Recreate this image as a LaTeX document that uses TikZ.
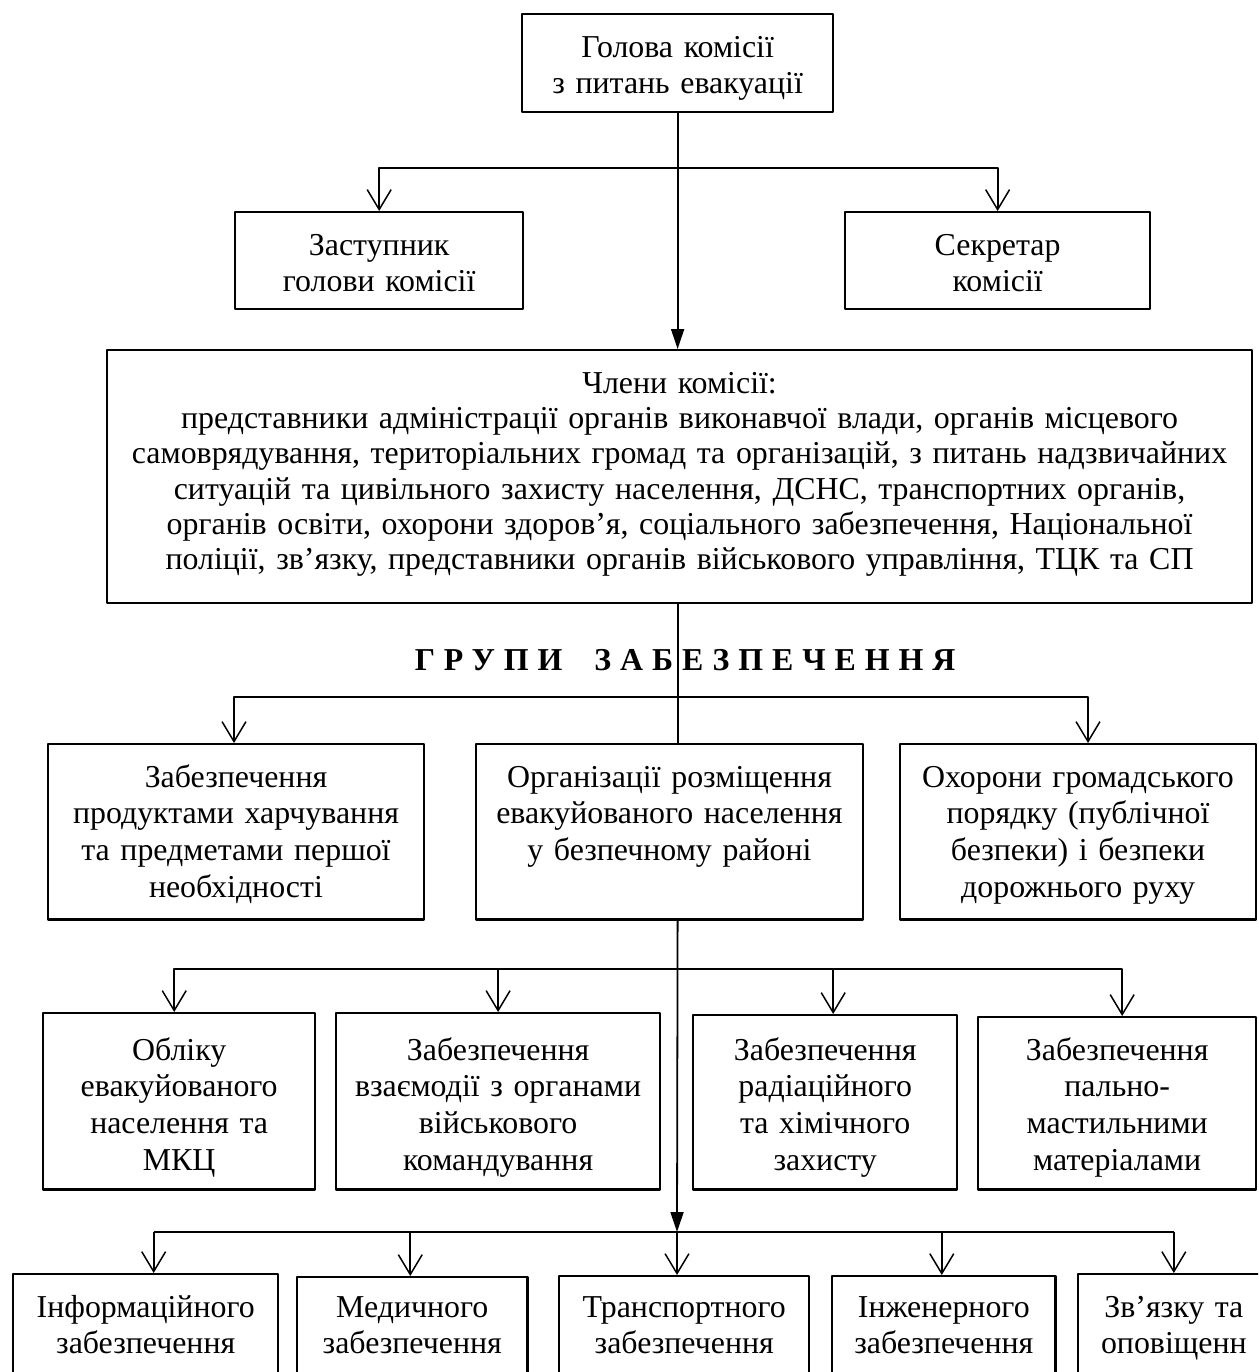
\documentclass[tikz,border=0pt]{standalone}
\usepackage{fontspec}
\setmainfont{Liberation Serif}
\usetikzlibrary{arrows.meta}

\begin{document}
\begin{tikzpicture}[x=1bp,y=-1bp,line join=bevel,
  orgbox/.style={draw,line width=2.4pt,anchor=north west,align=center,
    inner xsep=3pt,inner ysep=0pt,text height=43pt,
    font=\fontsize{32}{36.8}\selectfont},
  link/.style={line width=1.8pt},
  branch/.style={link,-{Straight Barb[length=20pt,width=24pt,line width=1.5pt]}},
  mainarrow/.style={link,-{Triangle[length=20pt,width=13pt]}}]
  \useasboundingbox (0,0) rectangle (1258,1372);
  \clip (0,0) rectangle (1258,1372);
%%
  % Node: Head
  \node[orgbox,text width=306pt,text depth=55pt] (head) at (521,13) {Голова комісії\\з питань евакуації};
  % Node: Deputy
  \node[orgbox,text width=283pt,text depth=54pt] (deputy) at (234,211) {Заступник\\голови комісії};
  % Node: Secretary
  \node[orgbox,text width=300pt,text depth=54pt] (secretary) at (844,211) {Секретар\\комісії};
  % Node: Members
  \node[orgbox,text width=1143pt,text depth=211pt,font=\fontsize{32}{35.5}\selectfont] (members) at (106,349)
    {Члени комісії:\\представники адміністрації органів виконавчої влади, органів місцевого\\самоврядування, територіальних громад та організацій, з питань надзвичайних\\ситуацій та цивільного захисту населення, ДСНС, транспортних органів,\\органів освіти, охорони здоров’я, соціального забезпечення, Національної\\поліції, зв’язку, представники органів військового управління, ТЦК та СП};
  % Node: Groups
  \node[font=\fontsize{32}{36}\selectfont\bfseries\addfontfeature{LetterSpace=28}] (groups) at (685,660) {ГРУПИ\quad ЗАБЕЗПЕЧЕННЯ};
  % Node: Food
  \node[orgbox,text width=371pt,text depth=133pt] (food) at (47,743) {Забезпечення\\продуктами харчування\\та предметами першої\\необхідності};
  % Node: Housing
  \node[orgbox,text width=382pt,text depth=133pt] (housing) at (475,743) {Організації розміщення\\евакуйованого населення\\у безпечному районі};
  % Node: Order
  \node[orgbox,text width=351pt,text depth=133pt] (order) at (899,743) {Охорони громадського\\порядку (публічної\\безпеки) і безпеки\\дорожнього руху};
  % Node: Record
  \node[orgbox,text width=267pt,text height=47pt,text depth=130pt] (record) at (42,1012) {Обліку\\евакуйованого\\населення та\\МКЦ};
  % Node: Liaison
  \node[orgbox,text width=319pt,text height=47pt,text depth=130pt] (liaison) at (335,1012) {Забезпечення\\взаємодії з органами\\військового\\командування};
  % Node: Chemical
  \node[orgbox,text width=259pt,text height=45pt,text depth=130pt] (chemical) at (692,1014) {Забезпечення\\радіаційного\\та хімічного\\захисту};
  % Node: Fuel
  \node[orgbox,text width=273pt,text height=43pt,text depth=130pt] (fuel) at (977,1016) {Забезпечення\\пально-\\мастильними\\матеріалами};
  % Node: Inform
  \node[orgbox,text width=260pt,text depth=110pt] (inform) at (12,1273) {Інформаційного\\забезпечення};
  % Node: Medical
  \node[orgbox,text width=225pt,text height=40pt,text depth=110pt] (medical) at (296,1276) {Медичного\\забезпечення};
  % Node: Transport
  \node[orgbox,text width=245pt,text height=41pt,text depth=110pt] (transport) at (558,1275) {Транспортного\\забезпечення};
  % Node: Engineer
  \node[orgbox,text width=218pt,text height=41pt,text depth=110pt] (engineer) at (831,1275) {Інженерного\\забезпечення};
  % Node: Signal
  \node[orgbox,text width=186pt,text depth=110pt] (signal) at (1077,1273) {Зв’язку та\\оповіщенн};
%%
  % Edge: Head -> Members
  \draw[mainarrow] (head.south) -- (head.south |- members.north);
  % Edge: Head -> Deputy, Secretary
  \coordinate (fork1) at (677,168);
  \draw[branch] (fork1) -| (deputy.north);
  \draw[branch] (fork1) -| (secretary.north);
  % Edge: Members -> Housing
  \draw[link] (head.south |- members.south) -- (head.south |- housing.north);
  % Edge: Members -> Food, Order
  \coordinate (fork2) at (677,697);
  \draw[branch] (fork2) -| ([xshift=-2pt]food.north);
  \draw[branch] (fork2) -| ([xshift=10pt]order.north);
  % Edge: Housing -> row 4
  \coordinate (fork3) at (677,969);
  \coordinate (fork4) at (677,1232);
  \draw[mainarrow] (head.south |- housing.south) -- (fork4);
  % Edge: Housing -> Record, Liaison, Chemical, Fuel
  \foreach \n/\dx in {record/-5,liaison/0,chemical/8,fuel/5}
    \draw[branch] (fork3) -| ([xshift=\dx pt]\n.north);
  % Edge: Housing -> Inform, Medical, Transport, Engineer, Signal
  \draw[link] ([xshift=8pt]inform.north |- fork4) -- (signal.north |- fork4);
  \foreach \n/\dx in {inform/8,medical/-2,engineer/-2,signal/0}
    \draw[branch] ([xshift=\dx pt]\n.north |- fork4) -- ([xshift=\dx pt]\n.north);
  \draw[branch] (fork4) -- (fork4 |- transport.north);
%
\end{tikzpicture}
\end{document}
